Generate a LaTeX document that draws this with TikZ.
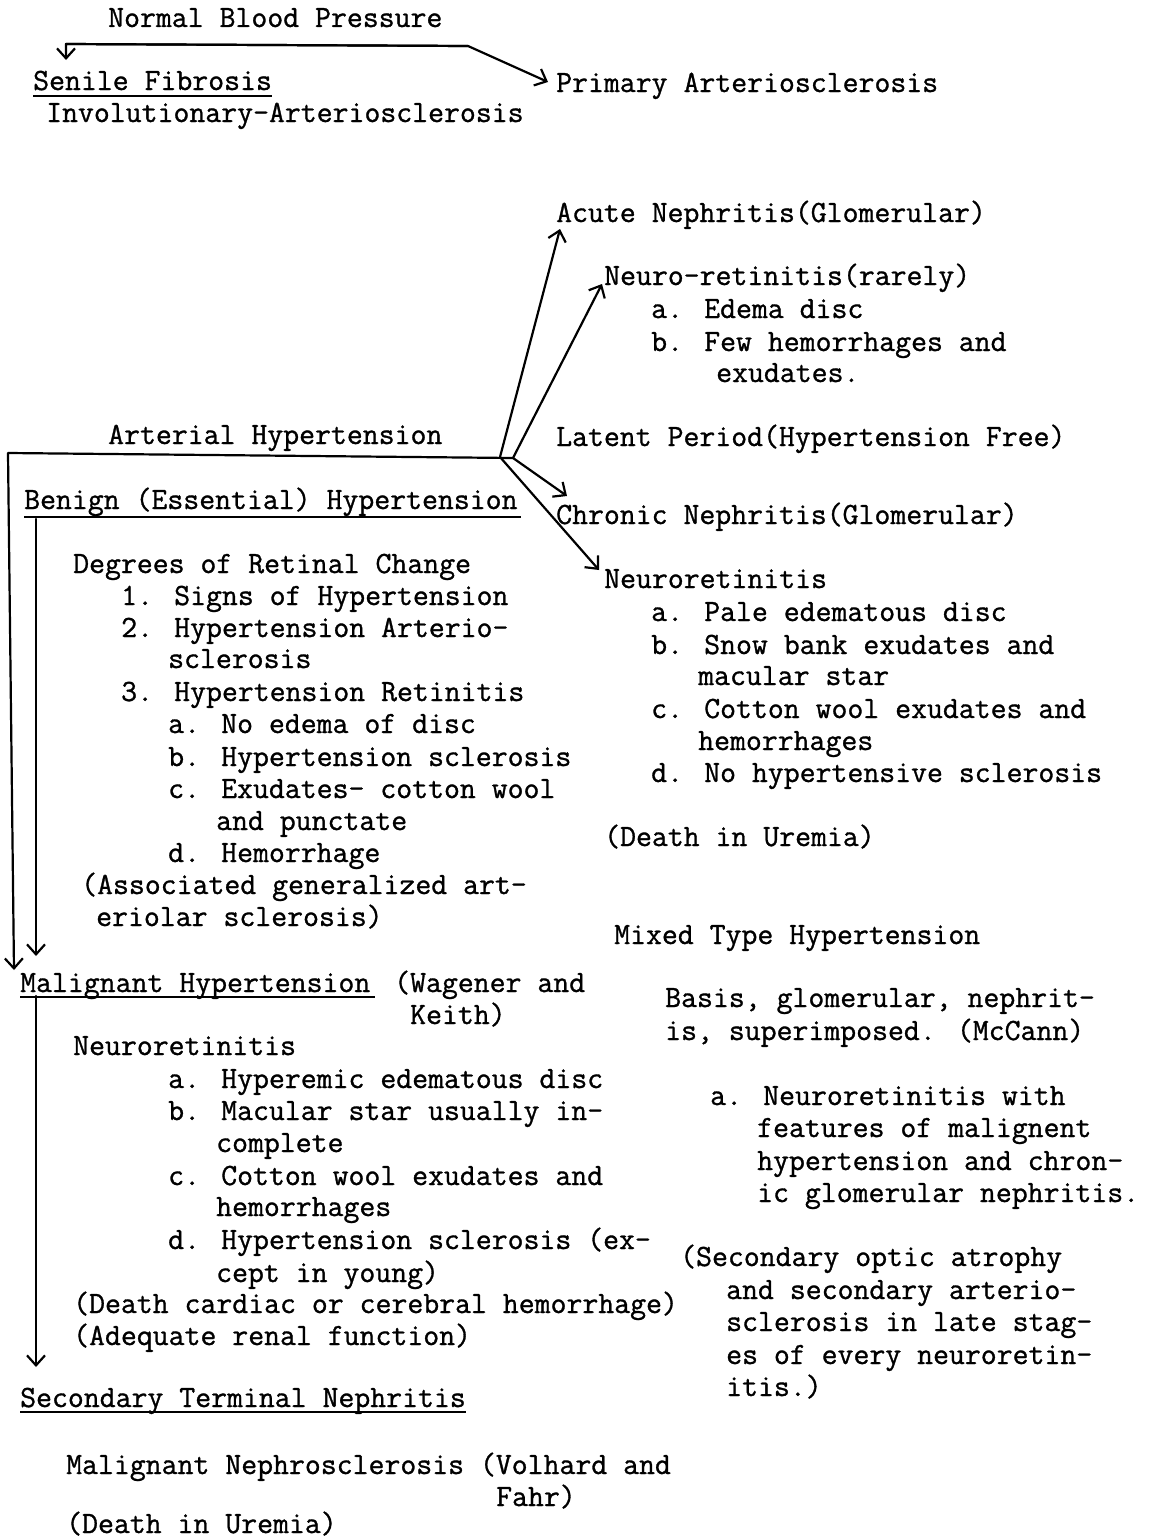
\documentclass[tikz,border=0pt]{standalone}
\usepackage{fontspec}
\setmainfont{Latin Modern Mono}[FakeBold=1]
\usepackage{tikz}
\usetikzlibrary{calc,arrows.meta}

\begin{document}
\begin{tikzpicture}[x=1pt,y=-1pt,
  txt/.style={anchor=base west,inner sep=0pt,font=\fontsize{30.9}{32}\selectfont},
  link/.style={line width=2.2pt,line cap=round,line join=round,-{Straight Barb[length=10pt,width=18pt,line width=2.2pt]}},
  uline/.style={line width=2.2pt}]
  \useasboundingbox (0,0) rectangle (1153,1539);
  \begin{scope}[yshift=2pt]
  % top: normal blood pressure
  \node[txt] (nbp) at (108,29) {Normal Blood Pressure};
  \node[txt] (senile) at (33,92) {Senile Fibrosis};
  \node[txt] (invol) at (46,124) {Involutionary-Arteriosclerosis};
  \node[txt] (primary) at (556,94) {Primary Arteriosclerosis};

  % right column, upper
  \node[txt] (acute) at (556,224) {Acute Nephritis(Glomerular)};
  \node[txt] (nrr) at (604,287) {Neuro-retinitis(rarely)};
  \node[txt] (nrrA) at (651,320) {a. Edema disc};
  \node[txt] (nrrB) at (651,353) {b. Few hemorrhages and};
  \node[txt] (nrrB2) at (716,384) {exudates.};
  \node[txt] (latent) at (556,448) {Latent Period(Hypertension Free)};
  \node[txt] (chronic) at (556,526) {Chronic Nephritis(Glomerular)};
  \node[txt] (nret) at (604,590) {Neuroretinitis};
  \node[txt] (nretA) at (651,623) {a. Pale edematous disc};
  \node[txt] (nretB) at (651,656) {b. Snow bank exudates and};
  \node[txt] (nretB2) at (698,687) {macular star};
  \node[txt] (nretC) at (651,720) {c. Cotton wool exudates and};
  \node[txt] (nretC2) at (698,752) {hemorrhages};
  \node[txt] (nretD) at (651,784) {d. No hypertensive sclerosis};
  \node[txt] (uremA) at (604,848) {(Death in Uremia)};

  % left column, benign
  \node[txt] (arthyp) at (108,446) {Arterial Hypertension};
  \node[txt] (benign) at (24,511) {Benign (Essential) Hypertension};
  \node[txt] (degrees) at (73,575) {Degrees of Retinal Change};
  \node[txt] (deg1) at (121,607) {1. Signs of Hypertension};
  \node[txt] (deg2) at (121,639) {2. Hypertension Arterio-};
  \node[txt] (deg2b) at (168,670) {sclerosis};
  \node[txt] (deg3) at (121,703) {3. Hypertension Retinitis};
  \node[txt] (deg3a) at (168,735) {a. No edema of disc};
  \node[txt] (deg3b) at (168,768) {b. Hypertension sclerosis};
  \node[txt] (deg3c) at (168,800) {c. Exudates- cotton wool};
  \node[txt] (deg3c2) at (216,832) {and punctate};
  \node[txt] (deg3d) at (168,864) {d. Hemorrhage};
  \node[txt] (assoc) at (81,896) {(Associated generalized art-};
  \node[txt] (assoc2) at (96,928) {eriolar sclerosis)};

  % malignant
  \node[txt] (malig) at (20,994) {Malignant Hypertension};
  \node[txt] (maligW) at (394,994) {(Wagener and};
  \node[txt] (maligK) at (410,1026) {Keith)};
  \node[txt] (mnret) at (73,1057) {Neuroretinitis};
  \node[txt] (mnretA) at (168,1090) {a. Hyperemic edematous disc};
  \node[txt] (mnretB) at (168,1122) {b. Macular star usually in-};
  \node[txt] (mnretB2) at (216,1154) {complete};
  \node[txt] (mnretC) at (168,1187) {c. Cotton wool exudates and};
  \node[txt] (mnretC2) at (216,1218) {hemorrhages};
  \node[txt] (mnretD) at (168,1251) {d. Hypertension sclerosis (ex-};
  \node[txt] (mnretD2) at (216,1284) {cept in young)};
  \node[txt] (cardiac) at (73,1315) {(Death cardiac or cerebral hemorrhage)};
  \node[txt] (renal) at (73,1347) {(Adequate renal function)};

  % terminal
  \node[txt] (secterm) at (20,1409) {Secondary Terminal Nephritis};
  \node[txt] (nephro) at (66,1476) {Malignant Nephrosclerosis (Volhard and};
  \node[txt] (nephro2) at (496,1508) {Fahr)};
  \node[txt] (uremB) at (66,1535) {(Death in Uremia)};

  % mixed type
  \node[txt] (mixed) at (614,946) {Mixed Type Hypertension};
  \node[txt] (basis) at (665,1009) {Basis, glomerular, nephrit-};
  \node[txt] (basis2) at (665,1042) {is, superimposed. (McCann)};
  \node[txt] (mixA) at (710,1107) {a. Neuroretinitis with};
  \node[txt] (mixA2) at (757,1139) {features of malignent};
  \node[txt] (mixA3) at (757,1172) {hypertension and chron-};
  \node[txt] (mixA4) at (757,1204) {ic glomerular nephritis.};
  \node[txt] (secopt) at (680,1268) {(Secondary optic atrophy};
  \node[txt] (secopt2) at (726,1301) {and secondary arterio-};
  \node[txt] (secopt3) at (726,1333) {sclerosis in late stag-};
  \node[txt] (secopt4) at (726,1366) {es of every neuroretin-};
  \node[txt] (secopt5) at (726,1398) {itis.)};

  % underlines
  \draw[uline] ([yshift=-6pt]senile.base west) -- ([yshift=-6pt]senile.base east);
  \draw[uline] ([yshift=-8pt]benign.base west) -- ([yshift=-8pt,xshift=3pt]benign.base east);
  \draw[uline] ([yshift=-5pt]malig.base west) -- ([yshift=-5pt,xshift=4pt]malig.base east);
  \draw[uline] ([yshift=-5pt]secterm.base west) -- ([yshift=-5pt]secterm.base east);

  % arrows from normal blood pressure
  \coordinate (nbpL) at (66,46);
  \coordinate (nbpR) at (468,48);
  \draw[link] (nbpR) -- (nbpL) -- ($(senile.base west)+(33,-30)$);
  \draw[link] (nbpL) -- (nbpR) -- ($(primary.base west)+(-8,-10)$);

  % arterial hypertension branches
  \coordinate (jn) at (500,459);
  \coordinate (jn2) at (513,460);
  \coordinate (corner) at (8,455);
  \draw[line width=2.2pt] (corner) -- (jn2);
  \draw[link] (jn) -- ($(acute.base west)+(4,7)$);
  \draw[link] (jn2) -- ($(nrr.base west)+(-2,-1)$);
  \draw[link] (jn2) -- ($(chronic.base west)+(11,-28)$);
  \draw[link] (jn) -- ($(nret.base west)+(-5,-18)$);

  % down the left side
  \draw[link] (corner) -- ($(malig.base west)+(-6,-22)$);
  \draw[link] ($(benign.base west)+(12,10)$) -- ($(malig.base west)+(16,-36)$);
  \draw[link] ($(malig.base west)+(16,4)$) -- ($(secterm.base west)+(16,-40)$);
  \end{scope}
\end{tikzpicture}
\end{document}
